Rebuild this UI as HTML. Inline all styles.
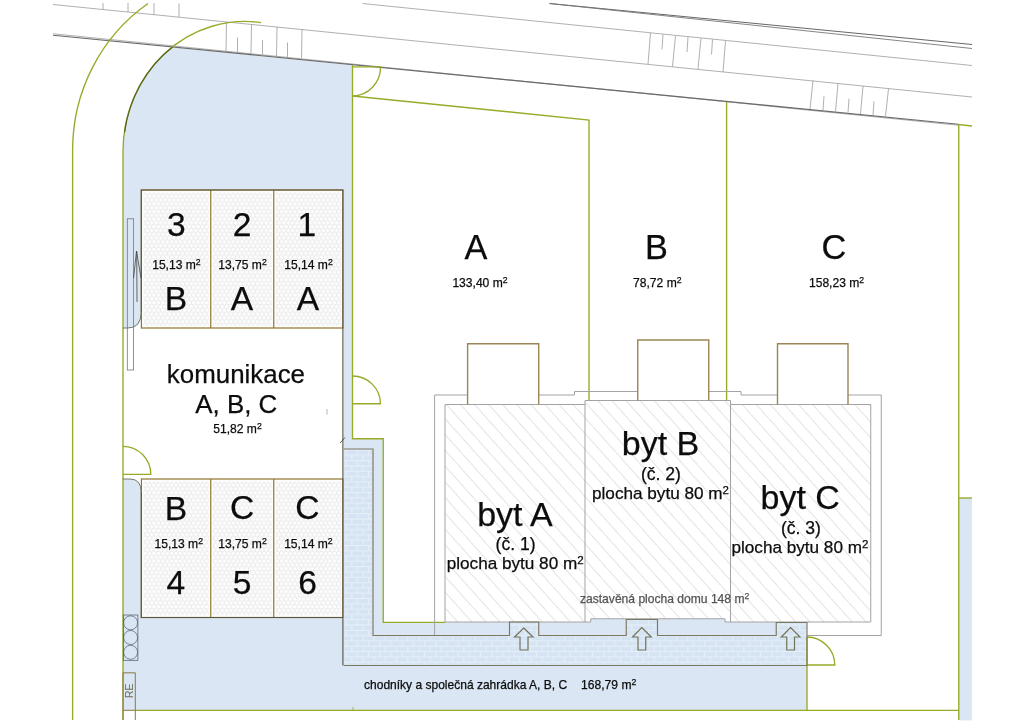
<!DOCTYPE html>
<html><head><meta charset="utf-8">
<style>
html,body{margin:0;padding:0;background:#fff;}
svg{display:block;will-change:transform;}
text{font-family:"Liberation Sans",sans-serif;fill:#0c0c0c;stroke:#0c0c0c;stroke-width:0.25px;}
.g{stroke:#98aa28;stroke-width:1.35;fill:none;}
.br{stroke:#9a8556;stroke-width:1.4;fill:none;}
.w{stroke:#a3a3a3;stroke-width:1;fill:none;}
.rd{stroke:#969696;stroke-width:0.75;fill:none;}
</style></head><body>
<svg width="1024" height="724" viewBox="0 0 1024 724">
<defs>
<pattern id="hatch" width="10.5" height="10.5" patternUnits="userSpaceOnUse" patternTransform="translate(0.9,0) rotate(48.2)">
<line x1="0" y1="0.5" x2="10.5" y2="0.5" stroke="#dcdcdc" stroke-width="0.8"/>
</pattern>
<pattern id="hex" width="4.4" height="7.6" patternUnits="userSpaceOnUse">
<rect width="4.4" height="7.6" fill="#fcfcfc"/>
<path d="M0,1.27 L2.2,0 L4.4,1.27 V3.8 L2.2,5.07 L0,3.8 Z M2.2,5.07 V7.6" stroke="#dfdfdf" stroke-width="0.6" fill="none"/>
</pattern>
<pattern id="brick" width="11.2" height="10.6" patternUnits="userSpaceOnUse" x="343.75" y="449.6">
<rect width="11.2" height="10.6" fill="#d5e3f3"/>
<path d="M0,0.5H11.2 M0,5.8H11.2 M2.5,0.5V5.8 M8.1,5.8V10.6 M8.1,0V0.5" stroke="#e8f0f9" stroke-width="0.9" fill="none"/>
</pattern>
</defs>
<rect width="1024" height="724" fill="#fff"/>
<!-- BLUE -->
<g id="blue" fill="#dae6f3">
<path d="M123,151.2 A121.8,129.7 0 0 1 172.5,46.98 L352.5,65 V438.75 H383.25 V622 H590.75 V618.75 H725 V622 H807 V710.3 H122.8 Z"/>
<rect x="958.75" y="498" width="13.1" height="222.4"/>
</g>
<!-- white komunikace -->
<path d="M122.8,328 H128 Q141,328 141.25,314 V328 H343.75 V479 H141.25 V492 Q141,479 130,479 H122.8 Z" fill="#fff"/>
<!-- BRICK -->
<path id="brickp" d="M343.75,449 H373 V635.5 H509.5 V622 H538.75 V635.5 H626.25 V619.5 H657.5 V635.5 H776.25 V622.5 H807 V665.5 H343.75 Z" fill="url(#brick)"/>
<!-- GARAGES -->
<g id="garages">
<rect x="141.25" y="190" width="202.5" height="138" fill="#fdfdfc"/>
<rect x="141.25" y="479" width="202.5" height="138.5" fill="#fdfdfc"/>
<rect x="143.6" y="192.4" width="65.2" height="133.4" fill="url(#hex)"/><rect x="212.8" y="192.4" width="59" height="133.4" fill="url(#hex)"/><rect x="275.8" y="192.4" width="65.4" height="133.4" fill="url(#hex)"/>
<rect x="143.6" y="481.4" width="65.2" height="133.9" fill="url(#hex)"/><rect x="212.8" y="481.4" width="59" height="133.9" fill="url(#hex)"/><rect x="275.8" y="481.4" width="65.4" height="133.9" fill="url(#hex)"/>
</g>
<!-- ROAD -->
<g id="road" class="rd">
<path d="M549.5,3.5 L972,44.5" stroke="#666" stroke-width="1"/>
<path d="M549.5,3.5 L972,48.5" stroke="#777" stroke-width="0.9"/>
<path d="M362.5,3.5 L972,65.5"/>
<path d="M53,4.5 L972,97"/>
<path d="M53,33.8 L958.5,125.2" stroke="#b0b0b0" stroke-width="1.1"/>
<path d="M53,35.2 L958.5,124.2" stroke="#6a6a6a" stroke-width="1.1"/>
<!-- ticks top-left above line c -->
<path d="M103,3 V9.5 M128,3 V12 M154,3 V14.5 M179,3.5 V17"/>
<!-- parking left c-d -->
<path d="M226.5,22 L226,51 M251.5,24.5 L251,53.5 M277,27 L276.5,56 M302,29.5 L301.5,58"/>
<path d="M237.5,37.5 V52 M262.5,40 V54.5 M287.5,42.5 V57"/>
<!-- parking mid b-c -->
<path d="M650.5,33 L648,64 M675.5,36 L672.5,66.5 M701,38.5 L698,69 M725.5,41 L723,72"/>
<path d="M663,34.5 L662,49.5 M688,37 L687,52 M712.5,39.5 L711.5,54.5"/>
<!-- parking right c-d -->
<path d="M813,80.5 L810,109 M838,83.25 L835.5,111.5 M863,86 L860.5,114 M888.5,88.75 L885.5,116.5"/>
<path d="M824,96.25 L823,110 M849,98.75 L848,112.5 M874,101.25 L873,115"/>
</g>
<!-- GREEN -->
<g id="green" class="g">
<path d="M148,3.5 A172.4,177.5 0 0 0 72.6,150.5 V720"/>
<path d="M261,22.6 A121.8,129.7 0 0 0 123,151.2 V720"/>
<path d="M172.5,46.98 A121.8,129.7 0 0 0 124.5,132.30" stroke="#56641f" stroke-width="1.25"/>
<path d="M352.5,65 V438.75 H383.25 V622.3 H445"/>
<path d="M352.5,66.8 H380.5 A28.5,28.5 0 0 1 352.5,96 L589,120 V400"/>
<path d="M352.5,376 A28,28 0 0 1 380.5,403.75 H352.5"/>
<path d="M122.8,446.3 A28,28 0 0 1 150.8,474.3 H122.8"/>
<path d="M726.6,102 V400"/>
<path d="M972,126 L958.75,124.5 V720"/>
<path d="M958.75,498 H972"/>
<path d="M135.3,710.3 H958.75"/>
<path d="M807,637 V710.3 M807,637 A28,28 0 0 1 834.75,665 H807"/>
<path d="M353,707 V710.3" stroke-width="0.8"/>
</g>
<!-- HOUSE -->
<g id="house">
<rect x="445" y="404.5" width="140" height="217.5" fill="#fff"/>
<path d="M585,400.5 H730.5 V622 H725 V618.75 H590.75 V622 H585 Z" fill="#fff"/>
<rect x="730.5" y="404.5" width="140.25" height="217.5" fill="#fff"/>
<path d="M445,404.5 H585 V622 H445 Z M585,400.5 H730.5 V622 H725 V618.75 H590.75 V622 H585 Z M730.5,404.5 H870.75 V622 H730.5 Z" fill="url(#hatch)"/>
<path class="w" d="M445,404.5 H585 M445,404.5 V622 H590.75 V618.75 H725 V622 H870.75 V404.5 H730.5"/>
<path class="w" d="M585,622 V400.5 H730.5 V622" stroke="#9a9a9a"/>
<path class="w" stroke="#9c9c9c" d="M467.5,395 H434.6 V635.5 M538.75,395 H574.5 V391.5 H637.75 M708.75,391.5 H741 V395 H777.5 M848,395 H881.25 V635.5 H807"/>
</g>
<!-- TERRACES -->
<g id="terr" class="br">
<path d="M467.6,404.5 V343.75 H538.7 V404.5"/>
<path d="M637.75,400.5 V340 H708.75 V400.5"/>
<path d="M777.5,404.5 V343.75 H848 V404.5"/>
</g>
<!-- BRICK BORDER -->
<path d="M343.75,449 H373 V635.5 H509.5 V622 H538.75 V635.5 H626.25 V619.5 H657.5 V635.5 H776.25 V622.5 H807 V665.5 H343.75" fill="none" stroke="#7d7860" stroke-width="1.15"/>

<!-- entry arrows -->
<g fill="none" stroke="#74745a" stroke-width="1.2">
<path id="arr" d="M523.75,628 L533,637 H528 V650 H520 V637 H514.5 Z"/>
<path d="M641.75,627.5 L651.25,637 H645.75 V650 H638 V637 H632.5 Z"/>
<path d="M790.5,627.5 L800,637 H794.5 V650 H786.75 V637 H781.25 Z"/>
</g>
<!-- GARAGE BORDERS -->
<g fill="none" stroke="#92742f" stroke-width="1.2">
<rect x="141.4" y="190" width="201.5" height="138"/>
<path d="M210.75,190 V328 M273.75,190 V328"/>
<rect x="141.4" y="479" width="201.5" height="138.5"/>
<path d="M210.75,479 V617.5 M273.75,479 V617.5"/>
</g>
<!-- dark blue-region outlines -->
<path d="M342.9,665.5 V190 H141.25 V312 M141.25,492 V617.5 H342.9" fill="none" stroke="#5b5846" stroke-width="1.15"/>
<!-- blue corner outlines -->
<g fill="none" stroke="#6b6b5a" stroke-width="0.9">
<path d="M141.25,312 Q141,328 128,328 H122.8"/>
<path d="M122.8,479 H130 Q141,479 141.25,492"/>
</g>
<!-- gate + arrow -->
<g fill="none" stroke="#777" stroke-width="0.8">
<rect x="127.3" y="218.8" width="6.3" height="151.2"/>
<path d="M133.6,278 L136.5,251 L141,278 M136.7,251 L137,302" stroke="#444"/>
</g>
<!-- bins -->
<g fill="none" stroke="#4a5866" stroke-width="0.7">
<rect x="123.3" y="615" width="14.6" height="45.3"/>
<circle cx="130.6" cy="622.8" r="7"/><circle cx="130.6" cy="637.5" r="7"/><circle cx="130.6" cy="652.3" r="7"/>
</g>
<!-- RE -->
<g fill="none" stroke="#8a7a48" stroke-width="1">
<path d="M123,720 V672.8 H135.3 V720 M123,710.3 H135.3"/>
</g>
<text transform="translate(133,690.8) rotate(-90)" text-anchor="middle" font-size="10.3" style="fill:#6f6f50;stroke:none">RE</text>
<!-- small ticks -->
<path d="M327,409 V414.5" stroke="#999" stroke-width="0.7"/>
<path d="M340,443 L345,437.5" stroke="#333" stroke-width="0.8"/>
<!-- TEXT -->
<g id="txt">
<text x="167.06" y="235.8" font-size="33.6">3</text>
<text x="232.69" y="235.7" font-size="33.6">2</text>
<text x="297.46" y="235.7" font-size="33.6">1</text>
<text x="152.19" y="268.8" font-size="12.08">15,13 m<tspan dy="-3.87" font-size="8.70">2</tspan></text>
<text x="218.24" y="268.8" font-size="12.08">13,75 m<tspan dy="-3.87" font-size="8.70">2</tspan></text>
<text x="284.24" y="268.8" font-size="12.08">15,14 m<tspan dy="-3.87" font-size="8.70">2</tspan></text>
<text x="164.74" y="309.8" font-size="33.6">B</text>
<text x="230.84" y="309.8" font-size="33.6">A</text>
<text x="296.64" y="309.8" font-size="33.6">A</text>
<text x="164.74" y="519.5" font-size="33.6">B</text>
<text x="230.07" y="519.3" font-size="33.6">C</text>
<text x="295.32" y="519.3" font-size="33.6">C</text>
<text x="154.54" y="547.7" font-size="12.08">15,13 m<tspan dy="-3.87" font-size="8.70">2</tspan></text>
<text x="218.24" y="547.7" font-size="12.08">13,75 m<tspan dy="-3.87" font-size="8.70">2</tspan></text>
<text x="284.14" y="547.7" font-size="12.08">15,14 m<tspan dy="-3.87" font-size="8.70">2</tspan></text>
<text x="166.56" y="593.6" font-size="33.6">4</text>
<text x="232.69" y="593.7" font-size="33.6">5</text>
<text x="298.17" y="593.7" font-size="33.6">6</text>
<text x="166.84" y="382.5" font-size="25.9">komunikace</text>
<text x="195.27" y="412.5" font-size="25.9">A, B, C</text>
<text x="213.22" y="432.5" font-size="12.08">51,82 m<tspan dy="-3.87" font-size="8.70">2</tspan></text>
<text x="464.61" y="258.9" font-size="34.3">A</text>
<text x="452.38" y="287.2" font-size="12.08">133,40 m<tspan dy="-3.87" font-size="8.70">2</tspan></text>
<text x="644.89" y="258.9" font-size="34.3">B</text>
<text x="633.06" y="287.2" font-size="12.08">78,72 m<tspan dy="-3.87" font-size="8.70">2</tspan></text>
<text x="821.46" y="259" font-size="34.3">C</text>
<text x="808.98" y="287.2" font-size="12.08">158,23 m<tspan dy="-3.87" font-size="8.70">2</tspan></text>
<text x="477.14" y="525.6" font-size="34.0">byt A</text>
<text x="495.59" y="550.2" font-size="17.6">(č. 1)</text>
<text x="446.70" y="569.1" font-size="17.15">plocha bytu 80 m<tspan dy="-5.49" font-size="11.49">2</tspan></text>
<text x="621.81" y="455.2" font-size="34.0">byt B</text>
<text x="640.89" y="480.2" font-size="17.6">(č. 2)</text>
<text x="592.03" y="499.1" font-size="17.15">plocha bytu 80 m<tspan dy="-5.49" font-size="11.49">2</tspan></text>
<text x="760.50" y="508.6" font-size="34.0">byt C</text>
<text x="780.89" y="534.1" font-size="17.6">(č. 3)</text>
<text x="731.45" y="553.3" font-size="17.15">plocha bytu 80 m<tspan dy="-5.49" font-size="11.49">2</tspan></text>
<text x="579.98" y="602.6" font-size="12.08" style="fill:#555;stroke:#555">zastavěná plocha domu 148 m<tspan dy="-3.87" font-size="8.70">2</tspan></text>
<text x="364.02" y="689" font-size="12.03">chodníky a společná zahrádka A, B, C</text>
<text x="581.08" y="689.2" font-size="12.08">168,79 m<tspan dy="-3.87" font-size="8.70">2</tspan></text>
</g>
</svg>
</body></html>
